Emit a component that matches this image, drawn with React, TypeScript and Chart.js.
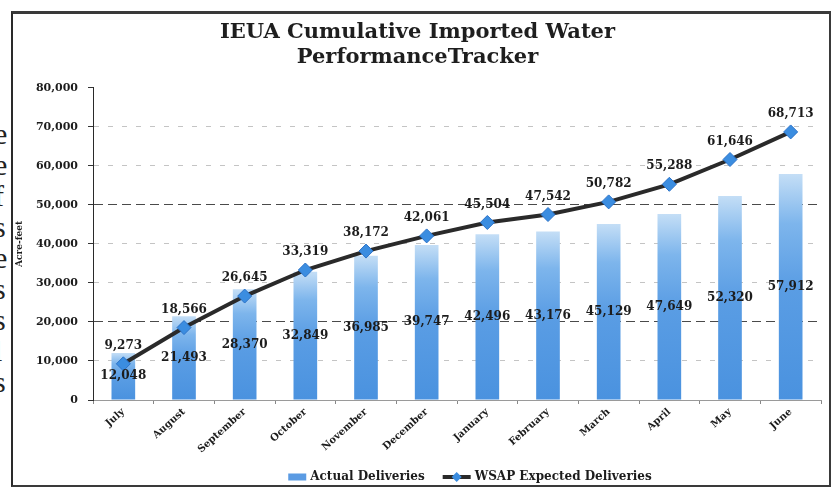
import React, { useEffect, useRef } from 'react';
import { Chart, registerables } from 'chart.js';

Chart.register(...registerables);

const months = ['July', 'August', 'September', 'October', 'November', 'December', 'January', 'February', 'March', 'April', 'May', 'June'];
const actualDeliveries = [12048, 21493, 28370, 32849, 36985, 39747, 42496, 43176, 45129, 47649, 52320, 57912];
const expectedDeliveries = [9273, 18566, 26645, 33319, 38172, 42061, 45504, 47542, 50782, 55288, 61646, 68713];
const yTickValues = [0, 10000, 20000, 30000, 40000, 50000, 60000, 70000, 80000];
const darkGridValues = [20000, 50000];
const titleLines = ['IEUA Cumulative Imported Water', 'PerformanceTracker'];
const seriesNames = ['Actual Deliveries', 'WSAP Expected Deliveries'];
const yAxisTitle = 'Acre-feet';
const marginLetters = ['e', 'e', 'f', 's', 'e', 's', 's', 'l', 's'];

const FONT = '"DejaVu Serif", serif';
const fmt = (v: number) => v.toLocaleString('en-US');

const valueLabelPlugin = {
  id: 'valueLabels',
  afterDatasetsDraw(chart: any) {
    const ctx = chart.ctx;
    ctx.save();
    ctx.font = `bold 12px ${FONT}`;
    ctx.fillStyle = '#1c1c1c';
    ctx.textAlign = 'center';
    ctx.textBaseline = 'middle';
    const barMeta = chart.getDatasetMeta(0);
    barMeta.data.forEach((el: any, i: number) => {
      ctx.fillText(fmt(actualDeliveries[i]), el.x, (el.y + el.base) / 2);
    });
    const lineMeta = chart.getDatasetMeta(1);
    lineMeta.data.forEach((el: any, i: number) => {
      ctx.fillText(fmt(expectedDeliveries[i]), el.x, el.y - 18);
    });
    ctx.restore();
  },
};

const customLegendPlugin = {
  id: 'customLegend',
  afterDraw(chart: any) {
    const ctx = chart.ctx;
    const area = chart.chartArea;
    ctx.save();
    ctx.font = `bold 12px ${FONT}`;
    const w0 = ctx.measureText(seriesNames[0]).width;
    const w1 = ctx.measureText(seriesNames[1]).width;
    const sw0 = 18, sw1 = 28, gap = 4, itemGap = 18;
    const total = sw0 + gap + w0 + itemGap + sw1 + gap + w1;
    let x = (area.left + area.right) / 2 + 13 - total / 2;
    const y = chart.height - 10;
    ctx.fillStyle = '#5b9be3';
    ctx.fillRect(x, y - 3.5, sw0, 7);
    x += sw0 + gap;
    ctx.fillStyle = '#1c1c1c';
    ctx.textAlign = 'left';
    ctx.textBaseline = 'middle';
    ctx.fillText(seriesNames[0], x, y);
    x += w0 + itemGap;
    ctx.strokeStyle = '#2a2a2a';
    ctx.lineWidth = 4;
    ctx.beginPath();
    ctx.moveTo(x, y);
    ctx.lineTo(x + sw1, y);
    ctx.stroke();
    const cx = x + sw1 / 2;
    ctx.fillStyle = '#3b8de0';
    ctx.beginPath();
    ctx.moveTo(cx, y - 5);
    ctx.lineTo(cx + 5, y);
    ctx.lineTo(cx, y + 5);
    ctx.lineTo(cx - 5, y);
    ctx.closePath();
    ctx.fill();
    x += sw1 + gap;
    ctx.fillStyle = '#1c1c1c';
    ctx.fillText(seriesNames[1], x, y);
    ctx.restore();
  },
};

function barFill(c: any) {
  const chart = c.chart;
  const area = chart.chartArea;
  if (!area || c.dataIndex === undefined) return '#5b9be3';
  const yScale = chart.scales.y;
  const top = yScale.getPixelForValue(actualDeliveries[c.dataIndex]);
  const base = yScale.getPixelForValue(0);
  const g = chart.ctx.createLinearGradient(0, top, 0, base);
  g.addColorStop(0, '#c4def6');
  g.addColorStop(0.22, '#7db5ec');
  g.addColorStop(0.5, '#5a9de4');
  g.addColorStop(1, '#4a92df');
  return g;
}

export default function App() {
  const canvasRef = useRef<HTMLCanvasElement | null>(null);

  useEffect(() => {
    document.body.style.margin = '0';
    const canvas = canvasRef.current;
    if (!canvas) return;
    const chart = new Chart(canvas, {
      type: 'bar',
      data: {
        labels: months,
        datasets: [
          {
            type: 'bar',
            label: seriesNames[0],
            data: actualDeliveries,
            backgroundColor: barFill,
            borderWidth: 0,
            barPercentage: 0.39,
            categoryPercentage: 1,
            order: 1,
          },
          {
            type: 'line',
            label: seriesNames[1],
            data: expectedDeliveries,
            borderColor: '#2a2a2a',
            borderWidth: 4,
            tension: 0,
            pointStyle: 'rectRot',
            pointRadius: 7,
            pointBackgroundColor: '#3b8de0',
            pointBorderColor: '#2b72c8',
            pointBorderWidth: 1,
            order: 0,
          } as any,
        ],
      },
      options: {
        responsive: false,
        animation: false,
        events: [],
        layout: { padding: { left: 14, right: 15, top: 0, bottom: 25 } },
        plugins: {
          legend: { display: false },
          tooltip: { enabled: false },
          title: {
            display: true,
            text: titleLines,
            color: '#1e1e1e',
            font: { family: FONT, size: 21, weight: 'bold', lineHeight: 1.2 },
            padding: { top: 20, bottom: 17.5 },
          },
        },
        scales: {
          x: {
            grid: {
              display: true,
              drawOnChartArea: false,
              offset: true,
              tickLength: 4,
              color: '#888888',
            },
            border: { display: true, color: '#9a9a9a', width: 1 },
            ticks: {
              color: '#1c1c1c',
              font: { family: FONT, size: 10, weight: 'bold' },
              minRotation: 42,
              maxRotation: 42,
              padding: 2,
            },
            afterFit: (scale: any) => {
              scale.height = 62;
            },
          },
          y: {
            min: 0,
            max: 80000,
            afterBuildTicks: (scale: any) => {
              scale.ticks = yTickValues.map((v) => ({ value: v }));
            },
            grid: {
              color: (c: any) => {
                const v = c.tick ? c.tick.value : null;
                if (v === 0 || v === 80000) return 'rgba(0,0,0,0)';
                return darkGridValues.includes(v) ? '#4a4a4a' : '#c4c4c4';
              },
              lineWidth: 1,
              tickLength: 5,
              tickColor: '#333333',
            },
            border: {
              display: true,
              color: '#2a2a2a',
              width: 1,
              dash: (c: any) => {
                const v = c.tick ? c.tick.value : null;
                if (v === null) return [];
                return darkGridValues.includes(v) ? [9, 5] : [5, 9];
              },
            } as any,
            ticks: {
              color: '#1c1c1c',
              font: { family: FONT, size: 11, weight: 'bold' },
              padding: 10,
              callback: (v: any) => fmt(Number(v)),
            },
            title: {
              display: true,
              text: yAxisTitle,
              color: '#1c1c1c',
              font: { family: FONT, size: 9, weight: 'bold' },
              padding: 0,
            },
            afterFit: (scale: any) => {
              scale.width = 79;
            },
          },
        },
      },
      plugins: [valueLabelPlugin, customLegendPlugin],
    });
    return () => chart.destroy();
  }, []);

  return (
    <div style={{ position: 'fixed', left: 0, top: 0, width: 836, height: 487, background: '#ffffff', overflow: 'hidden' }}>
      <div
        style={{
          position: 'absolute',
          left: -6,
          top: 118,
          fontFamily: '"Liberation Serif", serif',
          fontSize: 30,
          lineHeight: '31px',
          color: '#222',
        }}
      >
        {marginLetters.map((l, i) => (
          <div key={i}>{l}</div>
        ))}
      </div>
      <div
        style={{
          position: 'absolute',
          left: 11,
          top: 11,
          width: 820,
          height: 476,
          boxSizing: 'border-box',
          borderTop: '3px solid #3a3a3a',
          borderLeft: '2px solid #2a2a2a',
          borderRight: '2px solid #3a3a3a',
          borderBottom: '2px solid #3a3a3a',
          background: 'transparent',
        }}
      />
      <canvas ref={canvasRef} width={836} height={487} style={{ position: 'absolute', left: 0, top: 0 }} />
    </div>
  );
}
